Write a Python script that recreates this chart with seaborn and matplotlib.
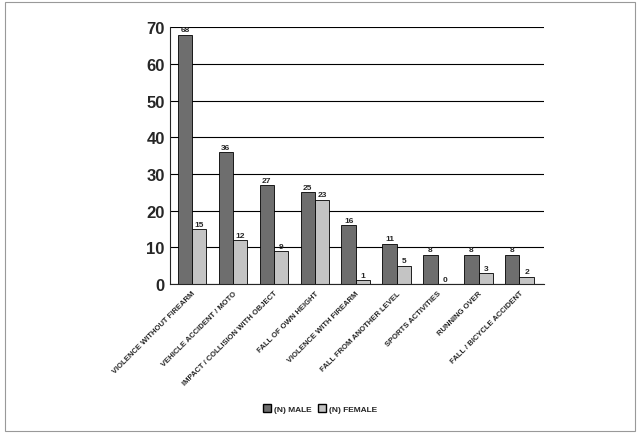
import numpy as np
import pandas as pd
import matplotlib
matplotlib.use("Agg")
import matplotlib.pyplot as plt
import seaborn as sns
from matplotlib.patches import Rectangle, Patch

categories = ["VIOLENCE WITHOUT FIREARM", "VEHICLE ACCIDENT / MOTO",
              "IMPACT / COLLISION WITH OBJECT", "FALL OF OWN HEIGHT",
              "VIOLENCE WITH FIREARM", "FALL FROM ANOTHER LEVEL",
              "SPORTS ACTIVITIES", "RUNNING OVER", "FALL / BICYCLE ACCIDENT"]
male = [68, 36, 27, 25, 16, 11, 8, 8, 8]
female = [15, 12, 9, 23, 1, 5, 0, 3, 2]
yticks = [0, 10, 20, 30, 40, 50, 60, 70]

df = pd.DataFrame({"cause": categories * 2,
                   "n": male + female,
                   "sex": ["(N) MALE"] * 9 + ["(N) FEMALE"] * 9})

sns.set_style("white")
plt.rcParams['font.family'] = ['Liberation Sans', 'DejaVu Sans']

fig = plt.figure(figsize=(6.4, 4.35), dpi=100)
fig.patches.append(Rectangle((0.008, 0.008), 0.984, 0.984, transform=fig.transFigure,
                             fill=False, edgecolor="#999999", lw=0.8))
ax = fig.add_axes([0.265, 0.345, 0.585, 0.59])
sns.barplot(data=df, x="cause", y="n", hue="sex", ax=ax,
            palette=["#6e6e6e", "#c4c4c4"], edgecolor="black", linewidth=0.6,
            width=0.7, legend=False)
ax.set_ylim(0, 70)
ax.set_yticks(yticks)
ax.yaxis.grid(True, color="black", lw=0.8)
ax.set_axisbelow(True)
ax.set_xlim(-0.55, 8.6)
for s in ["top", "right"]:
    ax.spines[s].set_visible(False)
ax.set_xlabel("")
ax.set_ylabel("")
ax.tick_params(axis="y", labelsize=12, length=0)
for lab in ax.get_yticklabels():
    lab.set_fontweight("bold")
ax.set_xticks(range(9))
ax.set_xticklabels(categories, rotation=45, ha="right", rotation_mode="anchor",
                   fontsize=5.5, fontweight="bold")
ax.tick_params(axis="x", length=0, pad=4)
for c in ax.containers:
    ax.bar_label(c, fontsize=6, fontweight="bold", padding=1)

fig.legend(handles=[Patch(facecolor="#6e6e6e", edgecolor="black", label="(N) MALE"),
                    Patch(facecolor="#c4c4c4", edgecolor="black", label="(N) FEMALE")],
           loc="center", bbox_to_anchor=(0.5, 0.058), ncol=2, frameon=False,
           prop={"size": 6, "weight": "bold"}, handlelength=1, handleheight=1,
           columnspacing=0.8, handletextpad=0.3)
fig.savefig("out.png", dpi=100)
